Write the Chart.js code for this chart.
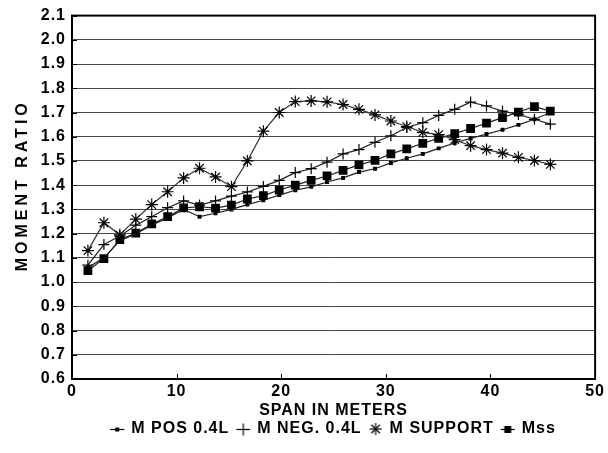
<!DOCTYPE html>
<html>
<head>
<meta charset="utf-8">
<script src="https://cdn.jsdelivr.net/npm/chart.js@4.4.0/dist/chart.umd.min.js"></script>
<style>
    html, body { margin: 0; padding: 0; background: #fff; }
    #wrap { width: 608px; height: 453px; }
</style>
</head>
<body>
<div id="wrap"><canvas id="momentChart" width="608" height="453"></canvas></div>
<script>
// span lengths (m) and moment ratios per span
const spanM = [1.52, 3.05, 4.57, 6.10, 7.62, 9.14, 10.67, 12.19, 13.72, 15.24,
    16.76, 18.29, 19.81, 21.34, 22.86, 24.38, 25.91, 27.43, 28.96, 30.48,
    32.00, 33.53, 35.05, 36.58, 38.10, 39.62, 41.15, 42.67, 44.20, 45.72];

const mPos = [1.06, 1.10, 1.17, 1.20, 1.235, 1.265, 1.30, 1.27, 1.284, 1.30,
    1.32, 1.338, 1.359, 1.379, 1.393, 1.413, 1.43, 1.454, 1.468, 1.492,
    1.511, 1.529, 1.552, 1.574, 1.593, 1.611, 1.629, 1.649, 1.672, 1.70];

const mNeg = [1.07, 1.155, 1.19, 1.235, 1.27, 1.307, 1.335, 1.318, 1.335, 1.355,
    1.372, 1.395, 1.42, 1.452, 1.468, 1.495, 1.529, 1.547, 1.577, 1.604,
    1.638, 1.658, 1.688, 1.713, 1.743, 1.727, 1.706, 1.692, 1.672, 1.652];

const mSupport = [1.13, 1.245, 1.195, 1.26, 1.32, 1.373, 1.43, 1.47, 1.434, 1.394,
    1.50, 1.623, 1.70, 1.745, 1.748, 1.744, 1.733, 1.713, 1.69, 1.665,
    1.642, 1.618, 1.609, 1.588, 1.563, 1.547, 1.532, 1.515, 1.502, 1.486];

const mSs = [1.047, 1.097, 1.175, 1.202, 1.24, 1.27, 1.306, 1.311, 1.305, 1.318,
    1.343, 1.357, 1.38, 1.40, 1.42, 1.438, 1.461, 1.484, 1.502, 1.529,
    1.55, 1.573, 1.593, 1.613, 1.634, 1.656, 1.679, 1.702, 1.724, 1.706];

const seriesNames = ['M POS 0.4L', 'M NEG. 0.4L', 'M SUPPORT', 'Mss'];
const yTitle = 'MOMENT RATIO';
const xTitle = 'SPAN IN METERS';

const FONT = 'Liberation Sans, Arial, sans-serif';
const textFont = { family: FONT, size: 16, weight: 'bold' };

function toPoints(values) {
    return values.map((v, i) => ({ x: spanM[i], y: v }));
}

// small legend icons: marker with a short line through it
function makeIcon(kind) {
    const c = document.createElement('canvas');
    c.width = 16;
    c.height = 14;
    const g = c.getContext('2d');
    g.strokeStyle = '#000';
    g.fillStyle = '#000';
    g.lineWidth = 1.2;
    if (kind !== 'star') {
        g.beginPath();
        g.moveTo(1, 7.5);
        g.lineTo(15, 7.5);
        g.stroke();
    }
    if (kind === 'small') g.fillRect(6, 5.5, 4, 4);
    if (kind === 'big') g.fillRect(4.5, 4, 7, 7);
    if (kind === 'cross') {
        g.beginPath();
        g.moveTo(8, 1.5);
        g.lineTo(8, 13.5);
        g.stroke();
    }
    if (kind === 'star') {
        for (let i = 0; i < 4; i++) {
            const a = i * Math.PI / 4;
            g.beginPath();
            g.moveTo(8 - 6 * Math.cos(a), 7 - 6 * Math.sin(a));
            g.lineTo(8 + 6 * Math.cos(a), 7 + 6 * Math.sin(a));
            g.stroke();
        }
    }
    return c;
}
const legendIcons = [makeIcon('small'), makeIcon('cross'), makeIcon('star'), makeIcon('big')];

// a touch of letter spacing for all chart text
const spacing = {
    id: 'spacing',
    beforeUpdate(chart) { chart.ctx.letterSpacing = '1px'; },
    beforeDraw(chart) { chart.ctx.letterSpacing = '1px'; }
};

// frame round the plot, inward tick marks and the rotated y title
const frameAndTicks = {
    id: 'frameAndTicks',
    afterDatasetsDraw(chart) {
        const { ctx, chartArea: a, scales } = chart;
        ctx.save();
        ctx.strokeStyle = '#000';
        ctx.lineWidth = 1;
        scales.y.ticks.forEach(t => {
            const py = Math.round(scales.y.getPixelForValue(t.value)) + 0.5;
            ctx.beginPath();
            ctx.moveTo(a.left, py);
            ctx.lineTo(a.left + 5, py);
            ctx.stroke();
        });
        scales.x.ticks.forEach(t => {
            const px = Math.round(scales.x.getPixelForValue(t.value)) + 0.5;
            ctx.beginPath();
            ctx.moveTo(px, a.bottom);
            ctx.lineTo(px, a.bottom - 5);
            ctx.stroke();
        });
        ctx.lineWidth = 2;
        ctx.strokeRect(a.left, a.top, a.right - a.left, a.bottom - a.top);

        // y axis title, spaced out
        ctx.translate(23, (a.top + a.bottom) / 2 - 10);
        ctx.rotate(-Math.PI / 2);
        ctx.font = 'bold 16px ' + FONT;
        ctx.letterSpacing = '4px';
        ctx.fillStyle = '#000';
        ctx.textAlign = 'center';
        ctx.textBaseline = 'middle';
        ctx.fillText(yTitle, 2, 0);
        ctx.restore();
    }
};

const ctx = document.getElementById('momentChart').getContext('2d');

const lineBase = {
    showLine: true,
    borderColor: '#222',
    borderWidth: 1.2,
    pointBorderColor: '#000',
    pointBackgroundColor: '#000'
};

window.momentChart = new Chart(ctx, {
    type: 'scatter',
    data: {
        datasets: [{
            ...lineBase,
            label: seriesNames[0],
            data: toPoints(mPos),
            pointStyle: 'rect',
            pointRadius: 2.8,
            pointBorderWidth: 0
        }, {
            ...lineBase,
            label: seriesNames[1],
            data: toPoints(mNeg),
            pointStyle: 'cross',
            pointRadius: 5.5,
            pointBorderWidth: 1.2
        }, {
            ...lineBase,
            label: seriesNames[2],
            data: toPoints(mSupport),
            borderColor: '#333',
            pointStyle: 'star',
            pointRadius: 6,
            pointBorderWidth: 1.2
        }, {
            ...lineBase,
            label: seriesNames[3],
            data: toPoints(mSs),
            pointStyle: 'rect',
            pointRadius: 6.2,
            pointBorderWidth: 0
        }]
    },
    options: {
        responsive: false,
        animation: false,
        layout: {
            padding: { top: 12, right: 8, bottom: 6, left: 0 }
        },
        plugins: {
            tooltip: { enabled: false },
            legend: {
                display: true,
                position: 'bottom',
                fullSize: false,
                labels: {
                    usePointStyle: true,
                    pointStyleWidth: 12,
                    boxHeight: 14,
                    padding: 8,
                    color: '#000',
                    font: textFont,
                    generateLabels: chart => chart.data.datasets.map((ds, i) => ({
                        text: ds.label,
                        pointStyle: legendIcons[i],
                        fillStyle: '#000',
                        strokeStyle: '#000',
                        lineWidth: 0,
                        fontColor: '#000',
                        hidden: false,
                        datasetIndex: i
                    }))
                }
            }
        },
        scales: {
            x: {
                type: 'linear',
                min: 0,
                max: 50,
                border: { display: false },
                grid: { display: false, drawTicks: false },
                ticks: {
                    stepSize: 10,
                    padding: 3,
                    maxRotation: 0,
                    color: '#000',
                    font: textFont
                },
                title: {
                    display: true,
                    text: xTitle,
                    color: '#000',
                    font: { ...textFont, lineHeight: 1 },
                    padding: { top: 0, bottom: -5.5 }
                },
                afterFit(scale) { scale.height = 34; }
            },
            y: {
                min: 0.6,
                max: 2.1,
                border: { display: false },
                grid: {
                    color: '#444',
                    lineWidth: 1,
                    borderDash: [1.5, 6.5],
                    drawTicks: false
                },
                ticks: {
                    stepSize: 0.1,
                    padding: 6,
                    color: '#000',
                    font: textFont,
                    callback: v => v.toFixed(1)
                },
                afterFit(scale) { scale.width = 72; }
            }
        }
    },
    plugins: [spacing, frameAndTicks]
});
</script>
</body>
</html>
